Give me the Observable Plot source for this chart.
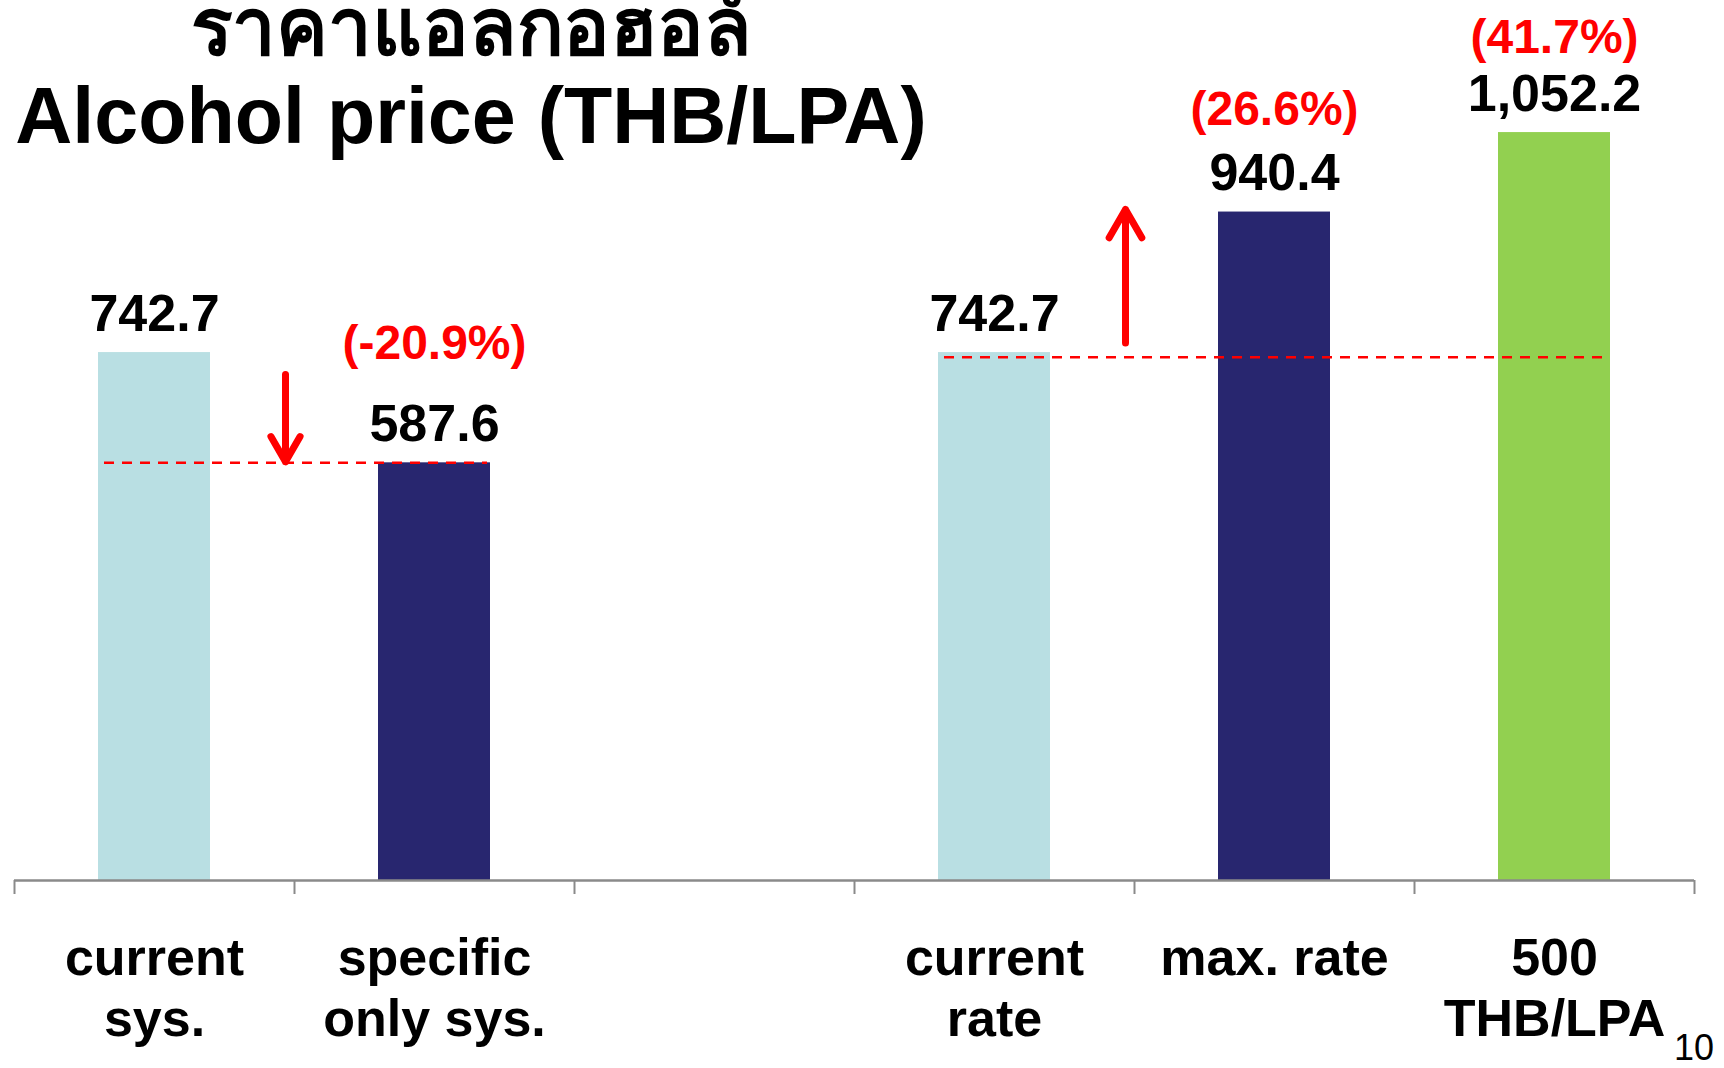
<!DOCTYPE html>
<html>
<head>
<meta charset="utf-8">
<script src="https://cdn.jsdelivr.net/npm/d3@7"></script>
<script src="https://cdn.jsdelivr.net/npm/@observablehq/plot@0.6"></script>
<style>
  body { margin: 0; background: #fff; }
  #wrap { position: relative; width: 1724px; height: 1068px; overflow: hidden;
          font-family: "Liberation Sans", Arial, sans-serif; }
  #chart { position: absolute; left: 0; top: 0; }
  #title { position: absolute; left: 0; top: 0; width: 942px; text-align: center;
           font-weight: bold; color: #000; }
  #title .th { position: absolute; left: 0; width: 942px; top: -12px; font-size: 80px; line-height: 80px;
               white-space: nowrap; transform: scaleX(0.97); transform-origin: 471px 0; }
  #title .en { position: absolute; left: 0; width: 942px; top: 76px; font-size: 79px; line-height: 79px; white-space: nowrap; }
  #page { position: absolute; right: 10px; top: 1031px; font-size: 36px; line-height: 34px; color: #000; }
</style>
</head>
<body>
<div id="wrap">
  <div id="chart"></div>
  <div id="title"><div class="th">ราคาแอลกอฮอล์</div><div class="en">Alcohol price (THB/LPA)</div></div>
  <div id="page">10</div>
</div>
<script>
// ---- data ----
const categories = ["current sys.", "specific only sys.", "gap", "current rate", "max. rate", "500 THB/LPA"];
const tickLabels = ["current\nsys.", "specific\nonly sys.", "", "current\nrate", "max. rate", "500\nTHB/LPA"];
const barCategories = ["current sys.", "specific only sys.", "current rate", "max. rate", "500 THB/LPA"];
const prices = [742.7, 587.6, 742.7, 940.4, 1052.2];
const pctChanges = [null, -20.9, null, 26.6, 41.7];
const refLineFrom = ["current sys.", "current rate"];
const refLineTo = ["specific only sys.", "500 THB/LPA"];
const refLineValue = [587.6, 736];
const arrowAt = ["specific only sys.", "max. rate"];
const arrowFrom = [712, 756];
const arrowTo = [589, 944];

// ---- styles ----
const barColors = ["#b9dfe3", "#28266f", "#b9dfe3", "#28266f", "#92d050"];
const pctDy = [-104, -87, -80];

// ---- layout ----
const W = 1724, H = 1068, mL = 14, mR = 30, mT = 0, mB = 188;
const yMax = 1238;
const pxPerUnit = (H - mT - mB) / yMax;
const step = (W - mL - mR) / categories.length;
const barW = 112;
const inset = (step - barW) / 2;
const tickLen = 14;

const bars = barCategories.map((c, i) => ({cat: c, price: prices[i], pct: pctChanges[i], color: barColors[i]}));
const refs = refLineFrom.map((f, i) => ({from: f, to: refLineTo[i], value: refLineValue[i]}));
const arrows = arrowAt.map((a, i) => ({at: a, from: arrowFrom[i], to: arrowTo[i]}));
const pctBars = bars.filter(d => d.pct != null);

const fmt = d3.format(",.1f");

const chart = Plot.plot({
  width: W, height: H,
  marginLeft: mL, marginRight: mR, marginTop: mT, marginBottom: mB,
  style: {fontFamily: '"Liberation Sans", Arial, sans-serif', color: "#000", background: "transparent", overflow: "visible"},
  x: {domain: categories, padding: 0, axis: null, label: null},
  y: {domain: [0, yMax], axis: null, label: null},
  marks: [
    Plot.barY(bars, {x: "cat", y: "price", fill: "color", insetLeft: inset, insetRight: inset}),
    Plot.ruleY(refs, {x1: "from", x2: "to", y: "value", stroke: "#ff0000", strokeWidth: 2.5,
      strokeDasharray: "10,8", insetLeft: inset + 6, insetRight: inset + 3}),
    Plot.ruleY([0], {stroke: "#8a8a8a", strokeWidth: 2.5}),
    Plot.ruleX(categories, {x: d => d, y1: 0, y2: -tickLen / pxPerUnit, dx: -step / 2, stroke: "#8a8a8a", strokeWidth: 2}),
    Plot.ruleX([categories[categories.length - 1]], {x: d => d, y1: 0, y2: -tickLen / pxPerUnit, dx: step / 2, stroke: "#8a8a8a", strokeWidth: 2}),
    Plot.axisX({tickSize: 0, tickPadding: 51, fontSize: 52, fontWeight: "bold", lineHeight: 1.17,
      label: null, tickFormat: d => tickLabels[categories.indexOf(d)]}),
    Plot.text(bars, {x: "cat", y: "price", text: d => fmt(d.price), dy: -22, lineAnchor: "bottom",
      fontSize: 52, fontWeight: "bold", fill: "#000"}),
    ...pctBars.map((d, i) => Plot.text([d], {x: "cat", y: "price", text: v => `(${v.pct.toFixed(1)}%)`,
      dy: pctDy[i], lineAnchor: "bottom", fontSize: 48, fontWeight: "bold", fill: "#ff0000"})),
    Plot.arrow(arrows, {x1: "at", x2: "at", y1: "from", y2: "to", dx: -149, stroke: "#ff0000",
      strokeWidth: 7, headLength: 7, headAngle: 60, strokeLinecap: "round", strokeLinejoin: "round"})
  ]
});
document.getElementById("chart").appendChild(chart);
</script>
</body>
</html>
